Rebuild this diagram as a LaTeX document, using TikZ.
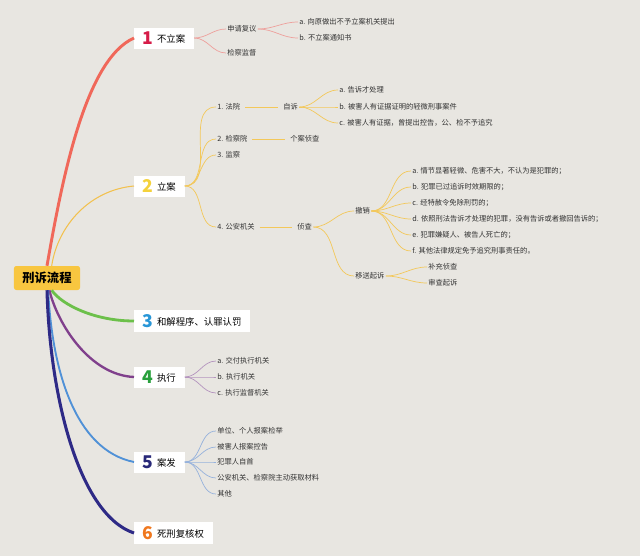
\documentclass[tikz,border=0pt]{standalone}
\usepackage{fontspec}
\usepackage{tikz}
\usetikzlibrary{calc}
\newfontfamily\cjk{Noto Sans CJK SC}
\definecolor{paper}{RGB}{232,230,225}
\definecolor{rootfill}{RGB}{248,198,64}
\definecolor{leaftext}{RGB}{50,50,50}
\definecolor{br1}{RGB}{240,104,90}
\definecolor{br2}{RGB}{242,193,78}
\definecolor{br3}{RGB}{108,192,74}
\definecolor{br4}{RGB}{128,64,140}
\definecolor{br5}{RGB}{80,145,215}
\definecolor{br6}{RGB}{46,42,134}
\definecolor{sub1}{RGB}{238,160,156}
\definecolor{sub2}{RGB}{243,200,90}
\definecolor{sub4}{RGB}{180,148,190}
\definecolor{sub5}{RGB}{150,178,220}
\definecolor{num1}{RGB}{214,28,72}
\definecolor{num2}{RGB}{244,210,60}
\definecolor{num3}{RGB}{40,150,215}
\definecolor{num4}{RGB}{40,160,60}
\definecolor{num5}{RGB}{40,40,120}
\definecolor{num6}{RGB}{240,120,30}
\newcommand{\bignum}[2]{{\color{#1}\fontsize{15}{15}\selectfont\bfseries #2}}
\newcommand{\topictext}[1]{\hspace{3pt}\raisebox{1.6pt}{#1}}
\tikzset{
  rootbox/.style={rectangle,rounded corners=2pt,fill=rootfill,minimum width=1.98cm,minimum height=0.72cm,font=\cjk\bfseries\fontsize{10.5}{12}\selectfont},
  topic/.style={rectangle,fill=white,anchor=west,minimum height=0.63cm,inner xsep=0.26cm,font=\cjk\fontsize{8}{9.5}\selectfont},
  leaf/.style={anchor=west,inner sep=1pt,text=leaftext,font=\cjk\fontsize{6.2}{7.5}\selectfont},
  trunk/.style={draw=#1},
  twig/.style={draw=#1,line width=0.6pt}
}

\begin{document}
\begin{tikzpicture}[x=0.03cm,y=-0.03cm]
  \fill[paper] (0,0) rectangle (640,556);
  \node[rootbox] (root) at (47,278) {刑诉流程};
  % main topics
  \node[topic] (t1) at (134,38) {\bignum{num1}{1}\topictext{不立案}};
  \node[topic] (t2) at (134,186) {\bignum{num2}{2}\topictext{立案}};
  \node[topic] (t3) at (134,321) {\bignum{num3}{3}\topictext{和解程序、认罪认罚}};
  \node[topic] (t4) at (134,377) {\bignum{num4}{4}\topictext{执行}};
  \node[topic] (t5) at (134,462) {\bignum{num5}{5}\topictext{案发}};
  \node[topic] (t6) at (134,533) {\bignum{num6}{6}\topictext{死刑复核权}};
  \draw[trunk=br1,line width=2.5pt] (root.north) .. controls (62,180) and (85,60) .. (t1.west);
  \draw[trunk=br2,line width=0.9pt] ([xshift=4pt]root.north) .. controls (58,225) and (90,190) .. (t2.west);
  \draw[trunk=br3,line width=2.4pt] ([xshift=4pt]root.south) .. controls (62,305) and (95,321) .. (t3.west);
  \draw[trunk=br4,line width=2pt] ([xshift=2pt]root.south) .. controls (58,325) and (90,375) .. (t4.west);
  \draw[trunk=br5,line width=1.6pt] ([xshift=1pt]root.south) .. controls (52,370) and (75,450) .. (t5.west);
  \draw[trunk=br6,line width=2.6pt] (root.south) .. controls (50,400) and (80,515) .. (t6.west);

  % 1 不立案
  \node[leaf] (fy) at (226,29) {申请复议};
  \node[leaf] (jd) at (226,53) {检察监督};
  \node[leaf] (fya) at (298,22) {a. 向原做出不予立案机关提出};
  \node[leaf] (fyb) at (298,38) {b. 不立案通知书};
  \draw[twig=sub1] (t1.east) to[out=0,in=180] (fy.west);
  \draw[twig=sub1] (t1.east) to[out=0,in=180] (jd.west);
  \draw[twig=sub1] (fy.east) to[out=0,in=180] (fya.west);
  \draw[twig=sub1] (fy.east) to[out=0,in=180] (fyb.west);

  % 2 立案
  \node[leaf] (fay) at (216,107) {1. 法院};
  \node[leaf] (zs) at (282,107) {自诉};
  \node[leaf] (zsa) at (338,90) {a. 告诉才处理};
  \node[leaf] (zsb) at (338,107) {b. 被害人有证据证明的轻微刑事案件};
  \node[leaf] (zsc) at (338,123) {c. 被害人有证据，曾提出控告，公、检不予追究};
  \node[leaf] (jcy) at (216,139) {2. 检察院};
  \node[leaf] (gazc) at (289,139) {个案侦查};
  \node[leaf] (jc) at (216,155) {3. 监察};
  \node[leaf] (ga) at (216,227) {4. 公安机关};
  \node[leaf] (zc) at (296,227) {侦查};
  \node[leaf] (cx) at (354,211) {撤销};
  \node[leaf] (ys) at (354,276) {移送起诉};
  \node[leaf] (cxa) at (411,171) {a. 情节显著轻微、危害不大，不认为是犯罪的；};
  \node[leaf] (cxb) at (411,187) {b. 犯罪已过追诉时效期限的；};
  \node[leaf] (cxc) at (411,203) {c. 经特赦令免除刑罚的；};
  \node[leaf] (cxd) at (411,219) {d. 依照刑法告诉才处理的犯罪，没有告诉或者撤回告诉的；};
  \node[leaf] (cxe) at (411,235) {e. 犯罪嫌疑人、被告人死亡的；};
  \node[leaf] (cxf) at (411,251) {f. 其他法律规定免予追究刑事责任的。};
  \node[leaf] (ysa) at (427,267) {补充侦查};
  \node[leaf] (ysb) at (427,283) {审查起诉};
  \draw[twig=sub2] (t2.east) to[out=0,in=180] (fay.west);
  \draw[twig=sub2] (t2.east) to[out=0,in=180] (jcy.west);
  \draw[twig=sub2] (t2.east) to[out=0,in=180] (jc.west);
  \draw[twig=sub2] (t2.east) to[out=0,in=180] (ga.west);
  \draw[twig=sub2,shorten <=3pt,shorten >=3pt] (fay.east) -- (zs.west);
  \draw[twig=sub2,shorten <=3pt,shorten >=3pt] (jcy.east) -- (gazc.west);
  \draw[twig=sub2,shorten <=3pt,shorten >=3pt] (ga.east) -- (zc.west);
  \draw[twig=sub2] (zs.east) to[out=0,in=180] (zsa.west);
  \draw[twig=sub2] (zs.east) to[out=0,in=180] (zsb.west);
  \draw[twig=sub2] (zs.east) to[out=0,in=180] (zsc.west);
  \draw[twig=sub2] (zc.east) to[out=0,in=180] (cx.west);
  \draw[twig=sub2] (zc.east) to[out=0,in=180] (ys.west);
  \draw[twig=sub2] (cx.east) to[out=0,in=180] (cxa.west);
  \draw[twig=sub2] (cx.east) to[out=0,in=180] (cxb.west);
  \draw[twig=sub2] (cx.east) to[out=0,in=180] (cxc.west);
  \draw[twig=sub2] (cx.east) to[out=0,in=180] (cxd.west);
  \draw[twig=sub2] (cx.east) to[out=0,in=180] (cxe.west);
  \draw[twig=sub2] (cx.east) to[out=0,in=180] (cxf.west);
  \draw[twig=sub2] (ys.east) to[out=0,in=180] (ysa.west);
  \draw[twig=sub2] (ys.east) to[out=0,in=180] (ysb.west);

  % 4 执行
  \node[leaf] (zxa) at (216,361) {a. 交付执行机关};
  \node[leaf] (zxb) at (216,377) {b. 执行机关};
  \node[leaf] (zxc) at (216,393) {c. 执行监督机关};
  \draw[twig=sub4] (t4.east) to[out=0,in=180] (zxa.west);
  \draw[twig=sub4] (t4.east) to[out=0,in=180] (zxb.west);
  \draw[twig=sub4] (t4.east) to[out=0,in=180] (zxc.west);

  % 5 案发
  \node[leaf] (afa) at (216,431) {单位、个人报案检举};
  \node[leaf] (afb) at (216,447) {被害人报案控告};
  \node[leaf] (afc) at (216,462) {犯罪人自首};
  \node[leaf] (afd) at (216,478) {公安机关、检察院主动获取材料};
  \node[leaf] (afe) at (216,494) {其他};
  \draw[twig=sub5] (t5.east) to[out=0,in=180] (afa.west);
  \draw[twig=sub5] (t5.east) to[out=0,in=180] (afb.west);
  \draw[twig=sub5] (t5.east) to[out=0,in=180] (afc.west);
  \draw[twig=sub5] (t5.east) to[out=0,in=180] (afd.west);
  \draw[twig=sub5] (t5.east) to[out=0,in=180] (afe.west);
\end{tikzpicture}
\end{document}
